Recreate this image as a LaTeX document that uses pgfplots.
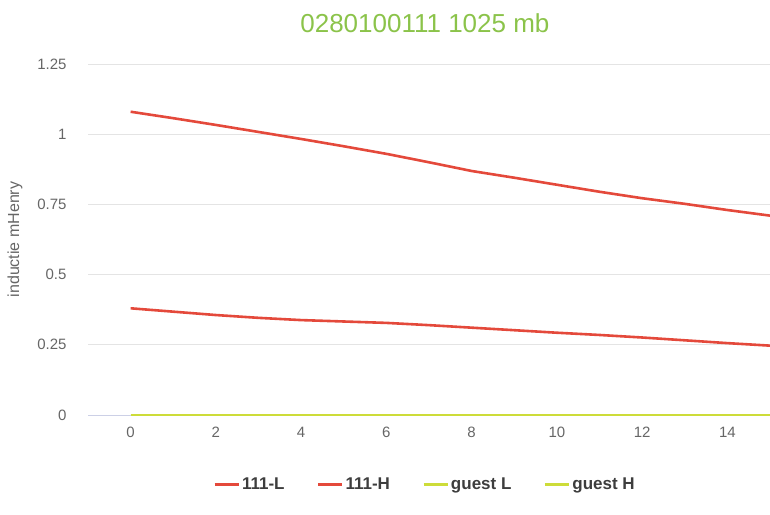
\documentclass[border=0pt]{standalone}
\usepackage{fontspec}
\setmainfont{Liberation Sans}
\usepackage{pgfplots}
\pgfplotsset{compat=1.18}
\definecolor{redl}{HTML}{E4493B}
\definecolor{limel}{HTML}{CDDC39}
\definecolor{titleg}{HTML}{8BC34A}
\definecolor{txt}{HTML}{666666}
\definecolor{gridc}{HTML}{E4E4E4}
\definecolor{axisc}{HTML}{CCD0E6}
\begin{document}
\begin{tikzpicture}
\useasboundingbox (0pt,0pt) rectangle (770pt,514pt);
\begin{axis}[
  at={(88pt,99pt)}, anchor=south west,
  scale only axis, width=682pt, height=351pt,
  xmin=-1, xmax=15, ymin=0, ymax=1.25,
  xtick={0,2,...,14}, ytick={0,0.25,0.5,0.75,1,1.25},
  yticklabels={0,0.25,0.5,0.75,1,1.25},
  xticklabels={0,2,4,6,8,10,12,14},
  major tick length=0pt,
  axis lines*=left,
  x axis line style={draw=axisc, line width=1pt, -},
  y axis line style={draw=none},
  ymajorgrids, grid style={draw=gridc, line width=0.8pt},
  tick label style={font=\fontsize{15}{17}\selectfont, text=txt},
  yticklabel style={anchor=east, xshift=-18pt},
  xticklabel style={anchor=north, yshift=-8pt, text height=11pt, text depth=0pt},
  ylabel={inductie mHenry},
  every axis y label/.style={at={(axis description cs:0,0.5)}, rotate=90, anchor=center, yshift=73pt,
    font=\fontsize{16}{18}\selectfont, text=txt},
  title={0280100111 1025 mb},
  title style={font=\fontsize{26}{30}\selectfont, text=titleg, at={(axis description cs:0.494,1)}, anchor=south, yshift=22pt},
  legend columns=4,
  legend style={at={(axis description cs:0.494,-0.197)}, anchor=center, draw=none, fill=none,
    font=\bfseries\fontsize{17}{19}\selectfont, text=txt!60!black,
    /tikz/every even column/.append style={column sep=30pt}},
  legend image code/.code={\draw[#1, line width=3pt] (0pt,0pt) -- (24pt,0pt);},
  clip=false,
]
\addplot[redl, line width=2.6pt] coordinates {
(0,1.080) (1,1.057) (2,1.033) (3,1.008) (4,0.983) (5,0.957) (6,0.930) (7,0.900)
(8,0.869) (9,0.845) (10,0.820) (11,0.795) (12,0.772) (13,0.752) (14,0.730) (15,0.710)};
\addlegendentry{111-L}
\addplot[redl, line width=2.6pt] coordinates {
(0,0.380) (1,0.368) (2,0.356) (3,0.346) (4,0.338) (5,0.333) (6,0.328) (7,0.320)
(8,0.311) (9,0.302) (10,0.293) (11,0.285) (12,0.276) (13,0.266) (14,0.256) (15,0.247)};
\addlegendentry{111-H}
\addplot[limel, line width=2.6pt] coordinates {
(0,0) (1,0) (2,0) (3,0) (4,0) (5,0) (6,0) (7,0) (8,0) (9,0) (10,0) (11,0) (12,0) (13,0) (14,0) (15,0)};
\addlegendentry{guest L}
\addplot[limel, line width=2.6pt] coordinates {
(0,0) (1,0) (2,0) (3,0) (4,0) (5,0) (6,0) (7,0) (8,0) (9,0) (10,0) (11,0) (12,0) (13,0) (14,0) (15,0)};
\addlegendentry{guest H}
\end{axis}
\end{tikzpicture}
\end{document}
